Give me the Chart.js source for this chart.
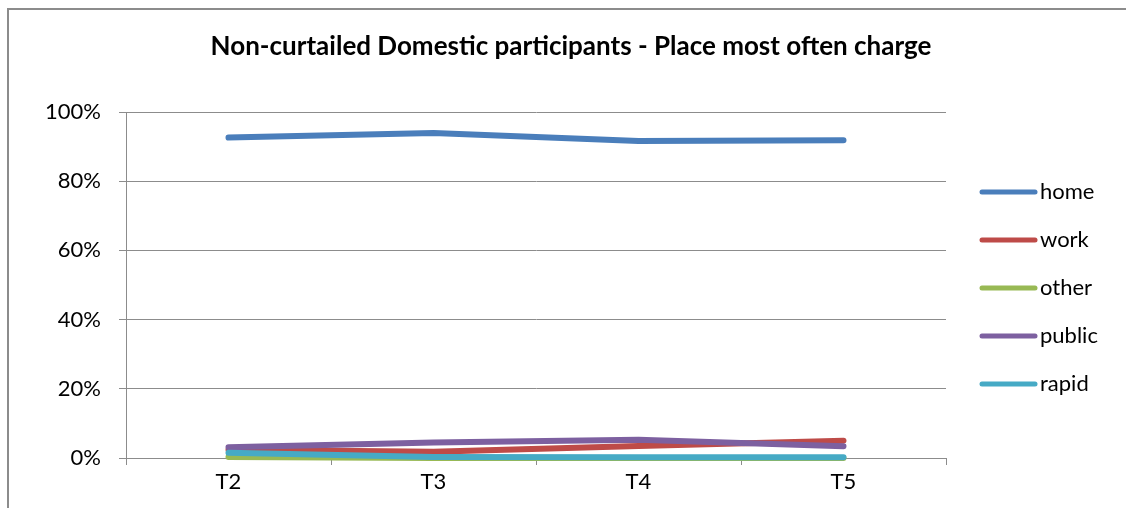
<!DOCTYPE html>
<html>
<head>
<meta charset="utf-8">
<script src="https://cdn.jsdelivr.net/npm/chart.js@4"></script>
<style>
  html, body { margin: 0; padding: 0; background: #fff; overflow: hidden; }
  #frame {
    position: absolute;
    left: 7px;
    top: 8px;
    width: 1200px;
    height: 600px;
    border-top: 2px solid #8c8c8c;
    border-left: 2px solid #8c8c8c;
  }
  #chart { position: absolute; left: 0; top: 0; }
</style>
</head>
<body>
<div id="frame"></div>
<canvas id="chart" width="1126" height="508"></canvas>
<script>
// chart data
var categories = ["T2", "T3", "T4", "T5"];
var seriesNames = ["home", "work", "other", "public", "rapid"];
var home = [92.6, 93.9, 91.6, 91.8];
var work = [2.4, 1.8, 3.5, 5.0];
var other = [0.3, 0, 0, 0];
var publicCharge = [3.1, 4.5, 5.3, 3.4];
var rapid = [1.5, 0.3, 0.2, 0.2];
var yTicks = [0, 20, 40, 60, 80, 100];
var chartTitle = "Non-curtailed Domestic participants - Place most often charge";

var colors = ["#4a7ebb", "#be4b48", "#98b954", "#7d60a0", "#46aac5"];
var LABEL_FONT = "Lato";

function makeDataset(name, values, color, order) {
  return {
    label: name,
    data: values,
    order: order, // excel paints the last series on top, chart.js the first
    borderColor: color,
    backgroundColor: color,
    borderWidth: 6,
    borderCapStyle: "round",
    borderJoinStyle: "round",
    pointRadius: 0,
    pointHoverRadius: 0,
    tension: 0,
    fill: false,
    clip: false, // lines at 0% should sit on top of the axis, not be cut in half
  };
}

// title centred on the whole frame + legend on the right, like the excel one
var excelBits = {
  id: "excelBits",
  afterDraw: function (chart) {
    var ctx = chart.ctx;
    ctx.save();
    ctx.fillStyle = "#000";
    ctx.textAlign = "center";
    ctx.textBaseline = "middle";
    ctx.font = "bold 26px " + LABEL_FONT;
    ctx.fillText(chartTitle, 571, 47);

    ctx.font = "22px " + LABEL_FONT;
    ctx.textAlign = "left";
    chart.data.datasets.forEach(function (ds, i) {
      var y = 192 + i * 48;
      ctx.strokeStyle = ds.borderColor;
      ctx.lineWidth = 5;
      ctx.lineCap = "round";
      ctx.beginPath();
      ctx.moveTo(982, y);
      ctx.lineTo(1035, y);
      ctx.stroke();
      ctx.fillStyle = "#000";
      ctx.fillText(ds.label, 1040, y);
    });
    ctx.restore();
  },
};

var values = [home, work, other, publicCharge, rapid];
var datasets = seriesNames.map(function (n, i) {
  return makeDataset(n, values[i], colors[i], seriesNames.length - i);
});

new Chart(document.getElementById("chart").getContext("2d"), {
  type: "line",
  data: { labels: categories, datasets: datasets },
  plugins: [excelBits],
  options: {
    responsive: false,
    animation: false,
    layout: { padding: { left: 0, right: 180, top: 112, bottom: 0 } },
    plugins: {
      legend: { display: false },
      tooltip: { enabled: false },
      title: { display: false },
    },
    scales: {
      x: {
        offset: true,
        grid: {
          offset: true,
          drawOnChartArea: false,
          drawTicks: true,
          tickLength: 7,
          color: "#8c8c8c",
        },
        border: { color: "#8c8c8c", width: 1 },
        ticks: {
          color: "#000",
          font: { family: LABEL_FONT, size: 22 },
          padding: 4,
          maxRotation: 0,
        },
        afterFit: function (s) { s.height = 50; },
      },
      y: {
        min: 0,
        max: 100,
        afterBuildTicks: function (s) {
          s.ticks = yTicks.map(function (v) { return { value: v }; });
        },
        grid: {
          color: "#8c8c8c",
          drawTicks: true,
          tickLength: 7,
        },
        border: { color: "#8c8c8c", width: 1 },
        ticks: {
          color: "#000",
          font: { family: LABEL_FONT, size: 22 },
          padding: 18,
          callback: function (v) { return v + "%"; },
        },
        afterFit: function (s) { s.width = 126; },
      },
    },
  },
});
</script>
</body>
</html>
